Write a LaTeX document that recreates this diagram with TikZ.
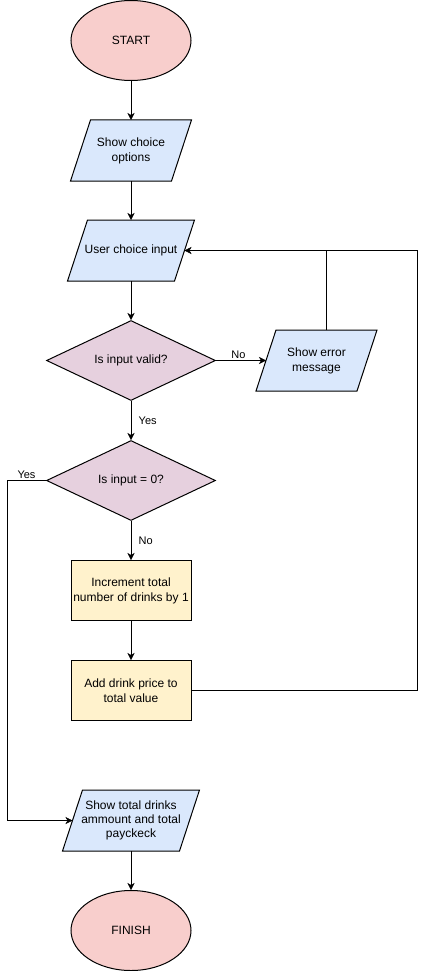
\documentclass[tikz,border=0pt]{standalone}
\usepackage{fontspec}
\setmainfont{Liberation Sans}
\usetikzlibrary{shapes.geometric, arrows.meta, calc, backgrounds}
\definecolor{termred}{HTML}{F8CECC}
\definecolor{ioblue}{HTML}{DAE8FC}
\definecolor{askpink}{HTML}{E6D0DE}
\definecolor{stepyellow}{HTML}{FFF2CC}
\tikzstyle{term} = [ellipse, minimum width=120pt, minimum height=80pt, text centered, draw=black, fill=termred]
\tikzstyle{io} = [rectangle, minimum width=100pt, minimum height=60pt, inner sep=1pt, align=center]
\tikzstyle{ioframe} = [line width=1pt, draw=black, fill=ioblue]
\tikzstyle{decision} = [diamond, aspect=2.1, minimum width=169pt, minimum height=80pt, inner sep=1pt, text centered, draw=black, fill=askpink]
\tikzstyle{process} = [rectangle, minimum width=120pt, minimum height=60pt, inner sep=1pt, align=center, draw=black, fill=stepyellow]
\tikzstyle{arrow} = [-{Stealth[length=7pt, width=7pt, inset=2pt]}]
\tikzstyle{lbl} = [font=\fontsize{11}{13}\selectfont, inner sep=2pt]
% slanted frame behind an io node
\newcommand{\slantframe}[1]{%
  \begin{pgfonlayer}{background}
  \draw [ioframe] ($(#1.south west)+(-10,0)$) -- ($(#1.south east)+(-10,0)$) -- ($(#1.north east)+(10,0)$) -- ($(#1.north west)+(10,0)$) -- cycle;
  \end{pgfonlayer}}

\begin{document}
\begin{tikzpicture}[x=1pt, y=1pt, node distance=110pt, line width=1pt, font=\fontsize{12}{15}\selectfont]
\useasboundingbox (0,0) rectangle (426,-971);

%Boxes
\node (start) [term] at (131,-40.5) {START};
\node (choices) [io, below of=start] {Show choice\\options};
\node (input) [io, minimum width=106pt, below of=choices, yshift=10pt] {User choice input};
%Checks
\node (valid) [decision, below of=input] {Is input valid?};
\node (error) [io, right of=valid, xshift=75.5pt] {Show error\\message};
\node (zero) [decision, below of=valid, yshift=-10pt] {Is input = 0?};
%Counting
\node (incr) [process, below of=zero] {Increment total\\number of drinks by 1};
\node (add) [process, below of=incr, yshift=10pt] {Add drink price to\\total value};
%End
\node (total) [io, minimum width=116pt, below of=add, yshift=-20pt, font=\fontsize{12}{14}\selectfont] {Show total drinks\\ammount and total\\payckeck};
\node (finish) [term, below of=total] {FINISH};

%Frames
\slantframe{choices}
\slantframe{input}
\slantframe{error}
\slantframe{total}
\coordinate (errtop) at ($(error.north)+(10,0)$);

%arrows
\draw [arrow] (start) -- (choices);
\draw [arrow] (choices) -- (input);
\draw [arrow] (input) -- (valid);
\draw [arrow] (valid) -- node[lbl, above, pos=0.45] {No} (error);
\draw [arrow] (valid) -- node[lbl, right, xshift=5.5pt] {Yes} (zero);
\draw [arrow] (zero.west) -- node[lbl, above] {Yes} ++(-39,0) |- (total);
\draw [arrow] (zero) -- node[lbl, right, xshift=5.5pt] {No} (incr);
\draw [arrow] (incr) -- (add);
\draw [arrow] (add.east) -- ++(226,0) |- (input);
\draw (errtop) -- (errtop |- input);
\draw [arrow] (total) -- (finish);

\end{tikzpicture}
\end{document}
